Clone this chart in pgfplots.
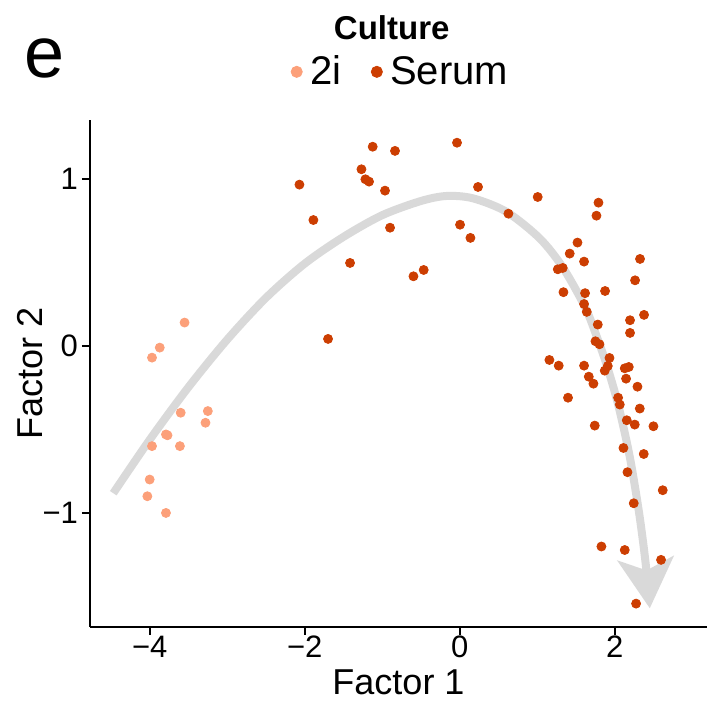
\documentclass[border=0pt]{standalone}
\usepackage{pgfplots}
\pgfplotsset{compat=1.18}
\usepackage{fontspec}
\setmainfont{Liberation Sans}
\usetikzlibrary{arrows.meta}
\definecolor{twoi}{RGB}{252,160,122}
\definecolor{serum}{RGB}{204,62,2}
\definecolor{curvegray}{RGB}{217,217,217}
\begin{document}
\begin{tikzpicture}
\useasboundingbox (-45pt,-37pt) rectangle (308.5pt,313.5pt);
\begin{axis}[
  scale only axis, width=308.5pt, height=253.5pt,
  xmin=-4.77, xmax=3.19, ymin=-1.683, ymax=1.353,
  axis lines=left,
  axis line style={-, line width=1.1pt, black},
  tick align=outside, major tick length=4pt,
  tick style={line width=1.1pt, black},
  xtick={-4,-2,0,2}, xticklabels={−4,−2,0,2},
  ytick={-1,0,1}, yticklabels={−1,0,1},
  ticklabel style={font=\fontsize{15.5}{15.5}\selectfont, text=black},
  xticklabel style={yshift=3pt},
  yticklabel style={xshift=1.5pt},
  xlabel={Factor 1}, ylabel={Factor 2},
  every axis x label/.style={at={(axis description cs:0.5,0)}, yshift=-34pt, anchor=base, text depth=0pt, inner sep=0pt, font=\fontsize{18}{18}\selectfont},
  every axis y label/.style={at={(axis description cs:0,0.5)}, xshift=-30pt, rotate=90, anchor=center, font=\fontsize{18}{18}\selectfont},
  legend columns=2,
  legend style={at={(axis description cs:0.505,1.095)}, anchor=center, draw=none, fill=none,
    font=\fontsize{20}{20}\selectfont, inner sep=0pt,
    /tikz/every even column/.append style={column sep=13pt}},
  legend image code/.code={\draw[#1, mark size=2.8pt] plot coordinates {(0pt,0pt)}; \path (4.5pt,0pt);},
  legend cell align=left,
  clip=false,
]
\addplot[curvegray, line width=4pt, smooth, -{Stealth[length=25pt, width=28pt, inset=6pt]}, forget plot] coordinates {
(-4.47,-0.882) (-4.0,-0.562) (-3.5,-0.247) (-3.0,0.038) (-2.5,0.288) (-2.0,0.493) (-1.5,0.653)
(-1.0,0.783) (-0.5,0.868) (-0.17,0.898) (0.17,0.884) (0.60,0.804) (1.03,0.645) (1.33,0.47)
(1.62,0.23) (1.78,0.04) (1.90,-0.12) (2.043,-0.35) (2.192,-0.66) (2.314,-1.00) (2.398,-1.30) (2.452,-1.571)
};
\addplot[only marks, mark=*, mark size=2.25pt, twoi, mark options={draw=twoi, fill=twoi}] coordinates {
(-3.55,0.14) (-3.87,-0.01) (-3.97,-0.07) (-3.60,-0.40) (-3.25,-0.39) (-3.28,-0.46)
(-3.79,-0.53) (-3.77,-0.535) (-3.97,-0.60) (-3.61,-0.60) (-4.00,-0.80) (-4.03,-0.90) (-3.79,-1.00)
};
\addlegendentry{2i}
\addplot[only marks, mark=*, mark size=2.25pt, serum, mark options={draw=serum, fill=serum}] coordinates {
(-1.123,1.193) (-0.835,1.168) (-0.035,1.217) (-1.268,1.058) (-1.217,0.998) (-1.170,0.984)
(-2.068,0.966) (-0.964,0.930) (0.236,0.952) (1.006,0.892) (-1.888,0.754) (0.628,0.792)
(-0.899,0.708) (0.004,0.726) (0.138,0.647) (-1.415,0.497) (-0.597,0.417) (-0.465,0.455)
(1.519,0.619) (1.419,0.553) (1.265,0.459) (1.329,0.467) (1.338,0.322) (-1.699,0.042)
(1.157,-0.084) (1.277,-0.118) (1.790,0.858) (1.764,0.780) (1.604,0.505) (2.326,0.521)
(2.262,0.393) (1.617,0.316) (1.875,0.329) (1.604,0.251) (1.639,0.204) (2.378,0.186)
(2.197,0.154) (1.781,0.128) (2.197,0.078) (1.751,0.028) (1.803,0.010) (1.604,-0.118)
(1.932,-0.072) (1.910,-0.120) (1.871,-0.148) (2.129,-0.134) (2.181,-0.126) (1.665,-0.184)
(1.725,-0.226) (2.146,-0.196) (2.293,-0.244) (1.397,-0.310) (2.043,-0.310) (2.065,-0.351)
(2.323,-0.375) (1.742,-0.477) (2.155,-0.445) (2.258,-0.471) (2.499,-0.481) (2.112,-0.611)
(2.374,-0.647) (2.164,-0.756) (2.619,-0.864) (2.245,-0.942) (1.828,-1.201) (2.129,-1.222)
(2.597,-1.281) (2.275,-1.543)
};
\addlegendentry{Serum}
\node[font=\bfseries\fontsize{16.5}{16.5}\selectfont, anchor=center] at (axis description cs:0.489,1.183) {Culture};
\node[font=\fontsize{36}{36}\selectfont, anchor=center] at (axis description cs:-0.073,1.122) {e};
\end{axis}
\end{tikzpicture}
\end{document}
